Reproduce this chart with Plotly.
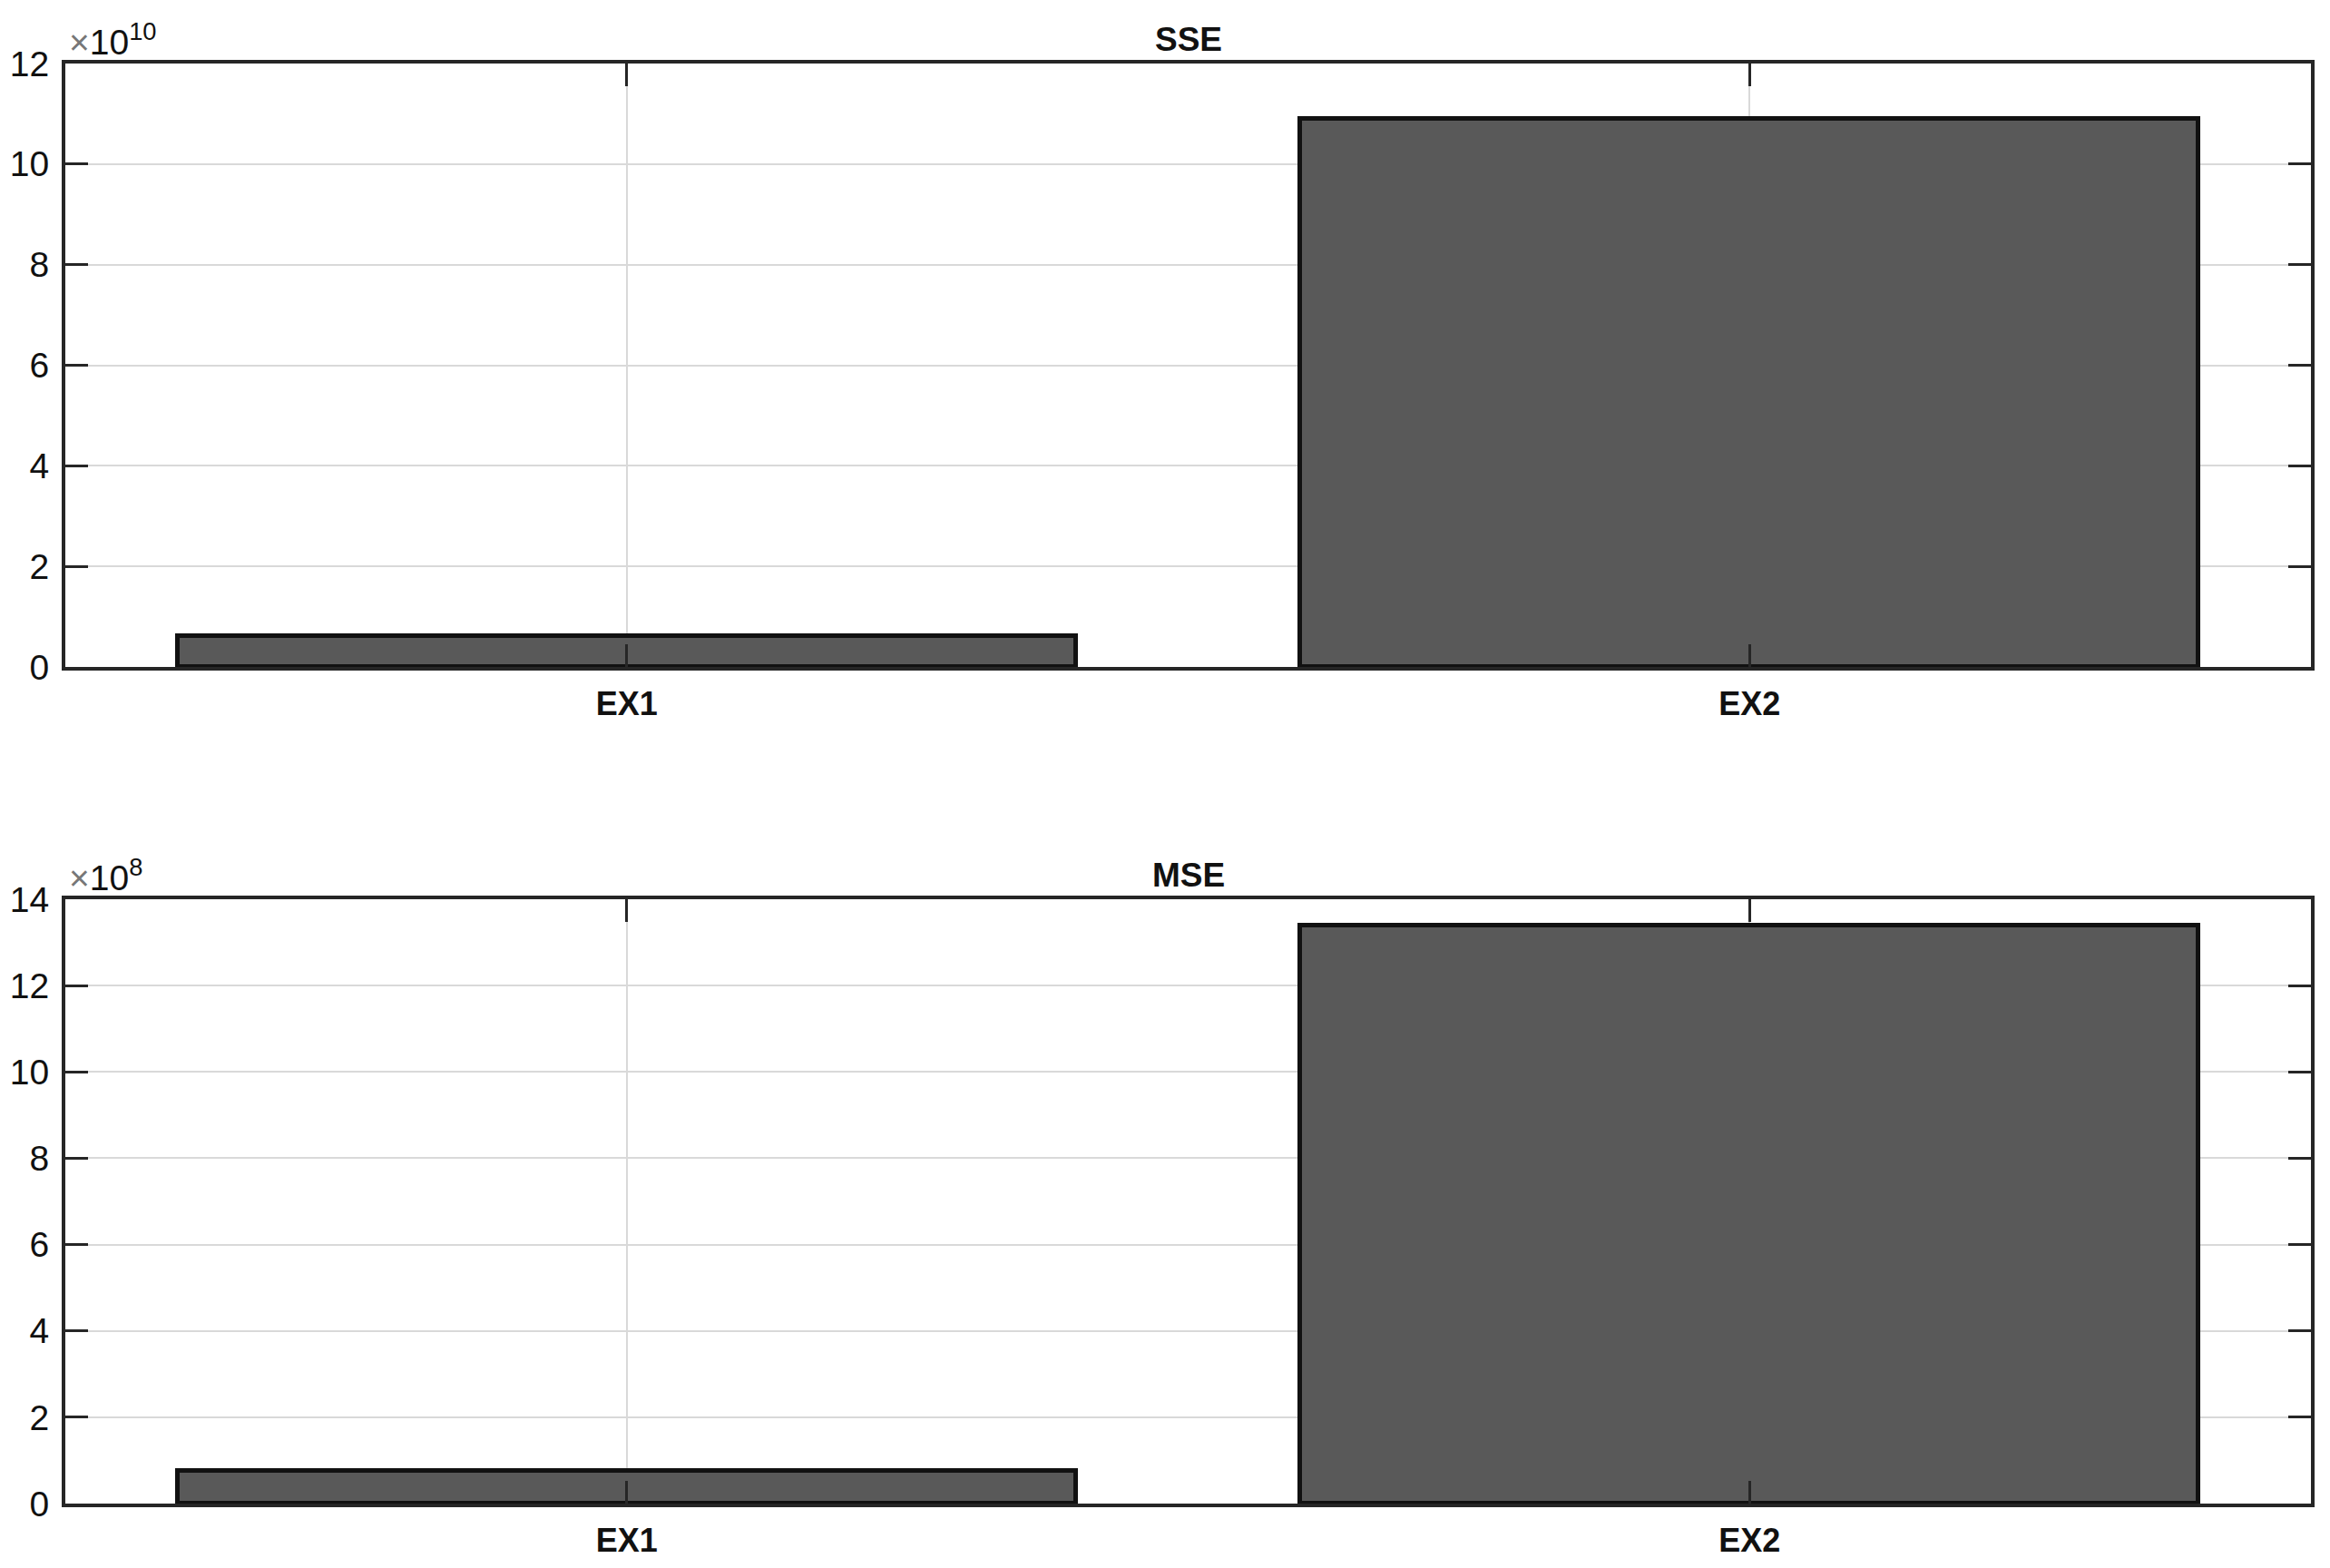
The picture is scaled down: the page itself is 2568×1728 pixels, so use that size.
import plotly.graph_objects as go

categories = ["EX1", "EX2"]
sse_values = [0.62e10, 10.9e10]
mse_values = [0.75e8, 13.4e8]
sse_scale = 1e10
mse_scale = 1e8
sse_ticks = [0, 2, 4, 6, 8, 10, 12]
mse_ticks = [0, 2, 4, 6, 8, 10, 12, 14]

W, H = 2568, 1728
OFF = 8  # page body margin offset
FONT = "Liberation Sans, Arial, Helvetica, sans-serif"
INK = "#262626"

fig = go.Figure()
fig.add_trace(go.Bar(x=categories, y=[v / sse_scale for v in sse_values], width=0.8,
                     marker=dict(color="#595959", line=dict(color="#111111", width=5)),
                     xaxis="x", yaxis="y", showlegend=False))
fig.add_trace(go.Bar(x=categories, y=[v / mse_scale for v in mse_values], width=0.8,
                     marker=dict(color="#595959", line=dict(color="#111111", width=5)),
                     xaxis="x2", yaxis="y2", showlegend=False))

top_dom = [(H - (735 - OFF)) / H, (H - (70 - OFF)) / H]
bot_dom = [(H - (1657 - OFF)) / H, (H - (991 - OFF)) / H]

xcommon = dict(type="category", range=[-0.5, 1.5], showline=True, linecolor=INK, linewidth=4,
               mirror="ticks", ticks="inside", ticklen=25, tickwidth=3, tickcolor=INK,
               showgrid=True, gridcolor="#d9d9d9", gridwidth=2, zeroline=False, automargin=False,
               tickfont=dict(family=FONT, size=36, color="#111111", weight="bold"),
               ticklabelstandoff=6)
ycommon = dict(showline=True, linecolor=INK, linewidth=4, mirror="ticks", ticks="inside",
               ticklen=25, tickwidth=3, tickcolor=INK, showgrid=True, gridcolor="#d9d9d9",
               gridwidth=2, zeroline=False, automargin=False,
               tickfont=dict(family=FONT, size=39, color="#111111"), ticklabelstandoff=6)

fig.update_layout(
    width=W, height=H, plot_bgcolor="white", paper_bgcolor="white",
    margin=dict(l=72 - OFF, r=W - (2547 - OFF), t=0, b=0), bargap=0,
    xaxis=dict(domain=[0, 1], anchor="y", **xcommon),
    yaxis=dict(domain=top_dom, anchor="x", range=[0, 12], tickvals=sse_ticks, **ycommon),
    xaxis2=dict(domain=[0, 1], anchor="y2", **xcommon),
    yaxis2=dict(domain=bot_dom, anchor="x2", range=[0, 14], tickvals=mse_ticks, **ycommon),
)

anns = []
for title, dom, exp in [("SSE", top_dom, "10"), ("MSE", bot_dom, "8")]:
    anns.append(dict(text="<b>%s</b>" % title, x=0.5, y=dom[1], xref="paper", yref="paper",
                     xanchor="center", yanchor="bottom", yshift=4, showarrow=False,
                     font=dict(family=FONT, size=37, color="#111111")))
    anns.append(dict(text="<span style='color:#777'>×</span>10<sup>%s</sup>" % exp,
                     x=0.001, y=dom[1], xref="paper", yref="paper",
                     xanchor="left", yanchor="bottom", yshift=0, showarrow=False,
                     font=dict(family=FONT, size=39, color="#111111")))
fig.update_layout(annotations=anns)

fig.write_html("out.html")
